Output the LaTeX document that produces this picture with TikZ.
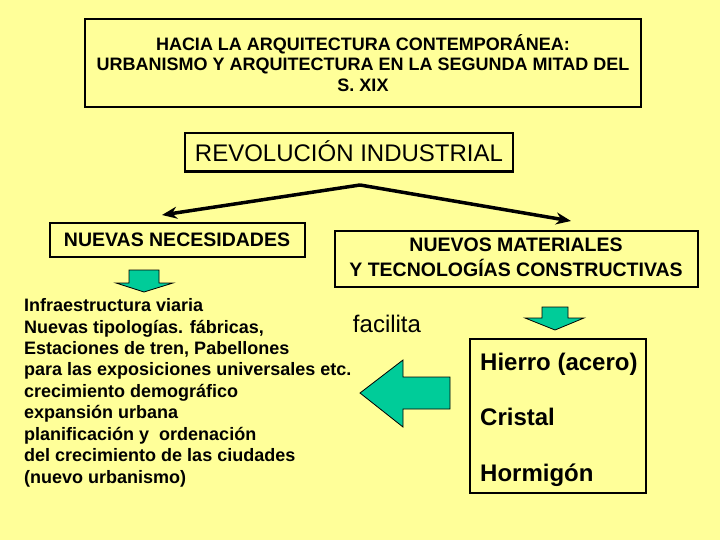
\documentclass[tikz,border=0pt]{standalone}
\usepackage{fontspec}
\setmainfont{Liberation Sans}
\usetikzlibrary{arrows.meta}
\definecolor{bgy}{HTML}{FFFF99}
\definecolor{tealg}{HTML}{00CC99}
\begin{document}
\begin{tikzpicture}[x=1pt,y=-1pt,
  box/.style={draw=black, line width=2.6pt, inner sep=0pt},
  thinbox/.style={draw=black, line width=2.2pt, inner sep=0pt},
  ttl/.style={anchor=base, inner sep=0pt, font=\bfseries\fontsize{18}{21}\selectfont},
  hd/.style={anchor=base, inner sep=0pt, font=\bfseries\fontsize{19.5}{23}\selectfont},
  lst/.style={anchor=base west, inner sep=0pt, font=\bfseries\fontsize{18}{21}\selectfont},
  mat/.style={anchor=base west, inner sep=0pt, font=\bfseries\fontsize{24}{28}\selectfont},
  reg/.style={anchor=base, inner sep=0pt, font=\fontsize{24}{28}\selectfont},
  conn/.style={line width=3.5pt, -{Stealth[length=15pt,width=12pt]}},
  garrow/.style={fill=tealg, draw=black, line width=0.8pt, line join=miter}]
\useasboundingbox (0,0) rectangle (720,540);
\fill[bgy] (0,0) rectangle (720,540);

% title
\node[box, minimum width=556pt, minimum height=88pt] (titlebox) at (363,63) {};
\node[ttl] (t1) at (363,50.5) {HACIA LA ARQUITECTURA CONTEMPORÁNEA:};
\node[ttl] (t2) at (363,71) {URBANISMO Y ARQUITECTURA EN LA SEGUNDA MITAD DEL};
\node[ttl] (t3) at (363,92) {S. XIX};

% revolucion
\node[thinbox, minimum width=328pt, minimum height=38.5pt] (revbox) at (349,152.2) {};
\node[reg] (rev) at (349,161.5) {REVOLUCIÓN INDUSTRIAL};

% connectors
\coordinate (apex) at (360,185);
\coordinate (ltip) at (162,215);
\coordinate (rtip) at (571,221);
\draw[conn] (apex) -- (ltip);
\draw[conn] (apex) -- (rtip);

% nuevas necesidades
\node[box, minimum width=255pt, minimum height=34pt] (necbox) at (177.5,240) {};
\node[hd] (nec) at (177,246) {NUEVAS NECESIDADES};

% nuevos materiales
\node[box, minimum width=363pt, minimum height=56pt] (matbox) at (516.5,259) {};
\node[hd] (m1) at (516,251.5) {NUEVOS MATERIALES};
\node[hd] (m2) at (516,276.5) {Y TECNOLOGÍAS CONSTRUCTIVAS};

% small green arrows
\draw[garrow] (129,270) -- (159,270) -- (159,283) -- (173,283) -- (144,292) -- (116,283) -- (129,283) -- cycle;
\draw[garrow] (542,307) -- (568,307) -- (568,318) -- (584,318) -- (555,330) -- (525,318) -- (542,318) -- cycle;

% list
\node[lst] (l1) at (24,311.5) {Infraestructura viaria};
\node[lst] (l2) at (24,333) {Nuevas tipologías. fábricas,};
\node[lst] (l3) at (24,354.4) {Estaciones de tren, Pabellones};
\node[lst] (l4) at (24,375.8) {para las exposiciones universales etc.};
\node[lst] (l5) at (24,397.3) {crecimiento demográfico};
\node[lst] (l6) at (24,418.7) {expansión urbana};
\node[lst] (l7) at (24,440.2) {planificación y \ ordenación};
\node[lst] (l8) at (24,461.6) {del crecimiento de las ciudades};
\node[lst] (l9) at (24,483) {(nuevo urbanismo)};

% facilita
\node[reg] (fac) at (387,332) {facilita};

% big arrow
\draw[garrow] (450,377) -- (403,377) -- (403,360) -- (360,393) -- (403,427) -- (403,409) -- (450,409) -- cycle;

% materials box
\node[box, minimum width=176pt, minimum height=154pt] (mbox) at (558,416) {};
\node[mat] (h1) at (480,370) {Hierro (acero)};
\node[mat] (h2) at (480,425) {Cristal};
\node[mat] (h3) at (480,481) {Hormigón};
\end{tikzpicture}
\end{document}
